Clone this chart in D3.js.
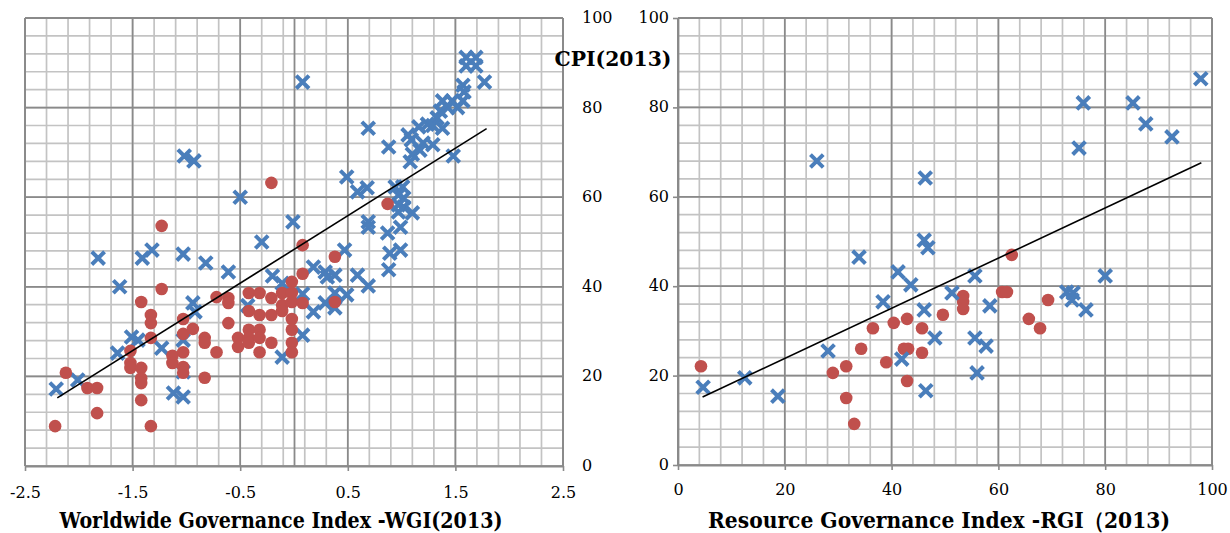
<!DOCTYPE html>
<html>
<head>
<meta charset="utf-8">
<script src="https://cdn.jsdelivr.net/npm/d3@7"></script>
<style>
  html, body { margin: 0; padding: 0; background: #fff; }
  svg { display: block; }
  text { font-family: "DejaVu Serif", "Liberation Serif", serif; fill: #000; }
</style>
</head>
<body>
<svg id="chart" width="1230" height="533"></svg>
<script>
// ---------- DATA ----------
// Left panel: WGI (x) vs CPI (y)
const wgiBlue = [
  [-2.21,17.2],[-2.01,19.2],[-1.82,46.4],[-1.62,40.0],[-1.41,46.4],[-1.32,48.2],
  [-1.03,47.3],[-0.82,45.3],[-0.61,43.3],[-0.30,50.0],[-0.20,42.4],[-0.11,40.8],
  [0.18,44.4],[-0.94,36.4],[-0.92,34.4],[-1.51,28.8],[-1.45,28.1],[-1.64,25.2],
  [-1.23,26.3],[-1.03,28.1],[-1.03,21.0],[-1.12,16.3],[-1.03,15.4],[0.08,38.4],
  [0.08,29.2],[-0.11,24.3],[-0.43,35.8],[0.18,34.4],[0.08,85.7],[-1.02,69.2],
  [-0.93,68.1],[-0.50,60.0],[-0.01,54.5],
  [1.60,91.2],[1.69,91.2],[1.60,89.3],[1.69,89.3],[1.77,85.7],
  [1.57,85.0],[1.58,83.5],[1.57,81.5],
  [1.38,81.5],[1.47,81.5],[1.43,80.0],[1.52,80.0],[1.36,79.2],[1.33,77.7],
  [1.24,76.3],[1.16,75.7],[1.29,76.0],[1.38,75.4],[1.06,73.9],[1.09,72.8],
  [1.20,72.1],[1.29,71.7],[1.17,70.5],[1.10,69.6],[1.08,67.9],[1.48,69.2],
  [0.69,75.4],[0.88,71.2],[0.49,64.5],[0.59,61.2],[0.68,62.1],[0.69,54.5],[0.69,53.3],
  [0.94,62.3],[1.01,62.3],[0.97,60.5],[1.02,59.8],[0.97,58.3],[1.02,57.8],[0.97,56.7],[1.10,56.5],
  [0.99,53.3],[0.87,52.0],[0.99,48.2],[0.89,47.5],[0.88,43.8],
  [0.47,48.2],[0.59,42.6],[0.69,40.2],[0.49,38.2],
  [0.29,43.3],[0.31,42.2],[0.38,42.6],[0.38,38.6],[0.29,36.4],[0.38,35.3]
];
const wgiRed = [
  [-2.22,8.9],[-2.12,20.8],[-1.92,17.4],[-1.83,17.4],[-1.83,11.8],[-1.33,8.9],
  [-1.42,36.6],[-1.23,39.5],[-1.33,33.7],[-1.33,31.9],[-1.33,28.6],[-1.52,25.7],
  [-1.52,23.0],[-1.52,21.9],[-1.42,21.9],[-1.42,19.6],[-1.42,18.5],[-1.42,14.7],
  [-1.13,24.6],[-1.13,23.0],[-1.03,25.4],[-1.03,22.1],[-1.03,20.8],[-1.03,32.8],
  [-1.03,29.5],[-0.94,30.6],[-0.83,28.6],[-0.83,27.5],[-0.83,19.7],[-0.72,25.4],
  [-0.72,37.7],[-0.61,37.5],[-0.61,36.4],[-0.61,31.9],[-0.52,28.6],[-0.52,26.6],
  [-0.42,38.6],[-0.42,34.6],[-0.42,30.4],[-0.42,28.6],[-0.42,27.5],[-0.32,38.6],
  [-0.32,33.7],[-0.32,30.4],[-0.32,28.6],[-0.32,25.4],[-0.21,37.5],[-0.21,33.7],
  [-0.21,27.5],[-0.11,38.6],[-0.11,35.9],[-0.11,34.6],[-0.02,41.1],[-0.02,38.6],
  [-0.02,36.6],[-0.02,32.8],[-0.02,30.4],[-0.02,27.5],[-0.02,25.4],[0.08,42.9],
  [0.08,36.4],[0.08,49.3],[-0.21,63.2],[-1.23,53.6],[0.87,58.5],[0.38,46.7],[0.38,36.6]
];
const wgiTrend = [[-2.2,15.2],[1.79,75.3]];

// Right panel: RGI (x) vs CPI (y)
const rgiBlue = [
  [4.7,17.4],[12.5,19.5],[18.7,15.4],[28.1,25.5],[33.9,46.5],[38.4,36.5],
  [41.2,43.2],[43.6,40.3],[41.9,23.7],[46.1,34.7],[46.1,50.3],[46.8,48.6],
  [46.4,16.6],[26.0,68.0],[46.3,64.2],[75.9,81.0],[75.1,70.9],[85.2,81.0],
  [87.6,76.3],[92.5,73.4],[97.9,86.4],[55.6,42.3],[51.3,38.5],[58.4,35.6],
  [48.1,28.4],[55.6,28.4],[57.7,26.6],[56.0,20.6],[80.0,42.3],[72.8,38.7],
  [74.0,38.5],[73.8,36.9],[76.4,34.7]
];
const rgiRed = [
  [4.3,22.1],[29.0,20.6],[31.5,22.1],[31.5,15.0],[33.0,9.2],[34.3,26.0],
  [36.5,30.6],[39.0,23.0],[40.4,31.8],[42.9,32.7],[42.3,26.0],[43.1,26.0],
  [42.9,18.8],[45.7,30.6],[45.7,25.1],[62.5,47.0],[60.7,38.7],[61.6,38.7],
  [53.4,37.8],[53.4,36.5],[53.4,34.9],[49.6,33.6],[69.3,36.9],[65.7,32.7],[67.8,30.6]
];
const rgiTrend = [[4.6,15.2],[98.0,67.6]];

const wgiTicks = [-2.5, -1.5, -0.5, 0.5, 1.5, 2.5];
const rgiTicks = [0, 20, 40, 60, 80, 100];
const cpiTicks = [0, 20, 40, 60, 80, 100];

const titleY = "CPI(2013)";
const titleLeftX = "Worldwide Governance Index -WGI(2013)";
const titleRightX = "Resource Governance Index -RGI\uFF082013)";

// ---------- STYLE ----------
const BLUE = "#4a7ebb", RED = "#c0504d";
const MINOR = "#c3c3c3", MAJOR = "#8a8a8a";
const TITLE_FONT = "'Liberation Serif', 'DejaVu Serif', serif";

const svg = d3.select("#chart");

function panel(opts) {
  const g = svg.append("g");
  const x = d3.scaleLinear().domain(opts.xDomain).range(opts.xRange);
  const y = d3.scaleLinear().domain([0, 100]).range(opts.yRange);
  const [x0, x1] = opts.xRange, [y0, y1] = opts.yRange; // y0 bottom, y1 top

  // minor grid
  const xMinor = d3.range(0, opts.xMinorN + 1).map(i => opts.xDomain[0] + i * opts.xMinorStep);
  const yMinor = d3.range(0, 26).map(i => i * 4);
  g.selectAll(".vminor").data(xMinor).join("line")
    .attr("x1", d => x(d)).attr("x2", d => x(d)).attr("y1", y0).attr("y2", y1)
    .attr("stroke", MINOR).attr("stroke-width", 1.7);
  g.selectAll(".hminor").data(yMinor).join("line")
    .attr("x1", x0).attr("x2", x1).attr("y1", d => y(d)).attr("y2", d => y(d))
    .attr("stroke", MINOR).attr("stroke-width", 1.7);
  // major grid
  g.selectAll(".vmajor").data(opts.xTicks).join("line")
    .attr("x1", d => x(d)).attr("x2", d => x(d)).attr("y1", y0).attr("y2", y1)
    .attr("stroke", MAJOR).attr("stroke-width", 1.7);
  g.selectAll(".hmajor").data(cpiTicks).join("line")
    .attr("x1", x0).attr("x2", x1).attr("y1", d => y(d)).attr("y2", d => y(d))
    .attr("stroke", MAJOR).attr("stroke-width", 1.7);

  // bottom axis
  const xAxis = d3.axisBottom(x).tickValues(opts.xTicks).tickSize(5).tickSizeOuter(0)
    .tickFormat(opts.xFormat);
  const gx = g.append("g").attr("transform", `translate(0,${y0})`).call(xAxis);
  gx.select(".domain").attr("stroke", MAJOR).attr("stroke-width", 1.8);
  gx.selectAll(".tick line").attr("stroke", MAJOR).attr("stroke-width", 1.6);
  gx.selectAll(".tick text").attr("font-family", "DejaVu Serif").attr("font-size", 16)
    .attr("fill", "#000").attr("dy", null).attr("y", opts.xLabelDy)
    .attr("dominant-baseline", "middle");

  // y axis line
  const yAxisAt = opts.yAxisAt;
  const yAxis = (opts.yLabelSide === "left" ? d3.axisLeft(y) : d3.axisRight(y))
    .tickValues(cpiTicks).tickSize(opts.yLabelSide === "left" ? 5 : 0).tickSizeOuter(0);
  const gy = g.append("g").attr("transform", `translate(${x(yAxisAt)},0)`).call(yAxis);
  gy.select(".domain").attr("stroke", MAJOR).attr("stroke-width", 1.8);
  gy.selectAll(".tick line").attr("stroke", MAJOR).attr("stroke-width", 1.6);
  gy.selectAll(".tick text").attr("font-family", "DejaVu Serif").attr("font-size", 16)
    .attr("fill", "#000").attr("dy", null).attr("dominant-baseline", "middle");
  if (opts.yLabelSide === "right") {
    gy.selectAll(".tick text").attr("x", opts.yLabelX - x(yAxisAt)).attr("text-anchor", "start");
  } else {
    gy.selectAll(".tick text").attr("x", -9).attr("text-anchor", "end");
  }

  // borders
  g.append("line").attr("x1", x1).attr("x2", x1).attr("y1", y0).attr("y2", y1)
    .attr("stroke", MAJOR).attr("stroke-width", 1.8);
  g.append("line").attr("x1", x0).attr("x2", x1).attr("y1", y1).attr("y2", y1)
    .attr("stroke", MAJOR).attr("stroke-width", 1.8);
  g.append("line").attr("x1", x0).attr("x2", x0).attr("y1", y0).attr("y2", y1)
    .attr("stroke", MAJOR).attr("stroke-width", 1.8);

  // markers
  const drawBlue = () => {
    const s = 6.4;
    g.append("g").selectAll("path").data(opts.blue).join("path")
      .attr("d", d => {
        const cx = x(d[0]), cy = y(d[1]);
        return `M${cx - s},${cy - s}L${cx + s},${cy + s}M${cx - s},${cy + s}L${cx + s},${cy - s}`;
      })
      .attr("stroke", BLUE).attr("stroke-width", 4).attr("fill", "none");
  };
  const drawRed = () => {
    g.append("g").selectAll("circle").data(opts.red).join("circle")
      .attr("cx", d => x(d[0])).attr("cy", d => y(d[1])).attr("r", 6.3)
      .attr("fill", RED);
  };
  if (opts.redOnTop) { drawBlue(); drawRed(); } else { drawRed(); drawBlue(); }

  // trend line
  g.append("path").datum(opts.trend)
    .attr("d", d3.line().x(d => x(d[0])).y(d => y(d[1])))
    .attr("stroke", "#000").attr("stroke-width", 1.6).attr("fill", "none");

  // axis title
  g.append("text").attr("x", opts.titleX).attr("y", 522)
    .attr("text-anchor", "middle").attr("dominant-baseline", "middle")
    .attr("font-family", TITLE_FONT).attr("font-weight", "bold").attr("font-size", 22)
    .attr("textLength", opts.titleLen).attr("lengthAdjust", "spacingAndGlyphs")
    .text(opts.title);
}

panel({
  xDomain: [-2.5, 2.5], xRange: [25, 563], yRange: [466, 18],
  xMinorStep: 0.2, xMinorN: 25, xTicks: wgiTicks,
  xFormat: d => d3.format(".1f")(d).replace("\u2212", "-"),
  xLabelDy: 27,
  yAxisAt: 0, yLabelSide: "right", yLabelX: 582,
  blue: wgiBlue, red: wgiRed, trend: wgiTrend, redOnTop: true,
  title: titleLeftX, titleX: 281, titleLen: 443
});

panel({
  xDomain: [0, 100], xRange: [678, 1212], yRange: [465, 18],
  xMinorStep: 4, xMinorN: 25, xTicks: rgiTicks,
  xFormat: d => String(d),
  xLabelDy: 25,
  yAxisAt: 0, yLabelSide: "left",
  blue: rgiBlue, red: rgiRed, trend: rgiTrend, redOnTop: false,
  title: titleRightX, titleX: 939, titleLen: 462
});

// CPI title
svg.append("text").attr("x", 613).attr("y", 60)
  .attr("text-anchor", "middle").attr("dominant-baseline", "middle")
  .attr("font-family", TITLE_FONT).attr("font-weight", "bold").attr("font-size", 21)
  .attr("textLength", 117).attr("lengthAdjust", "spacingAndGlyphs")
  .text(titleY);
</script>
</body>
</html>
